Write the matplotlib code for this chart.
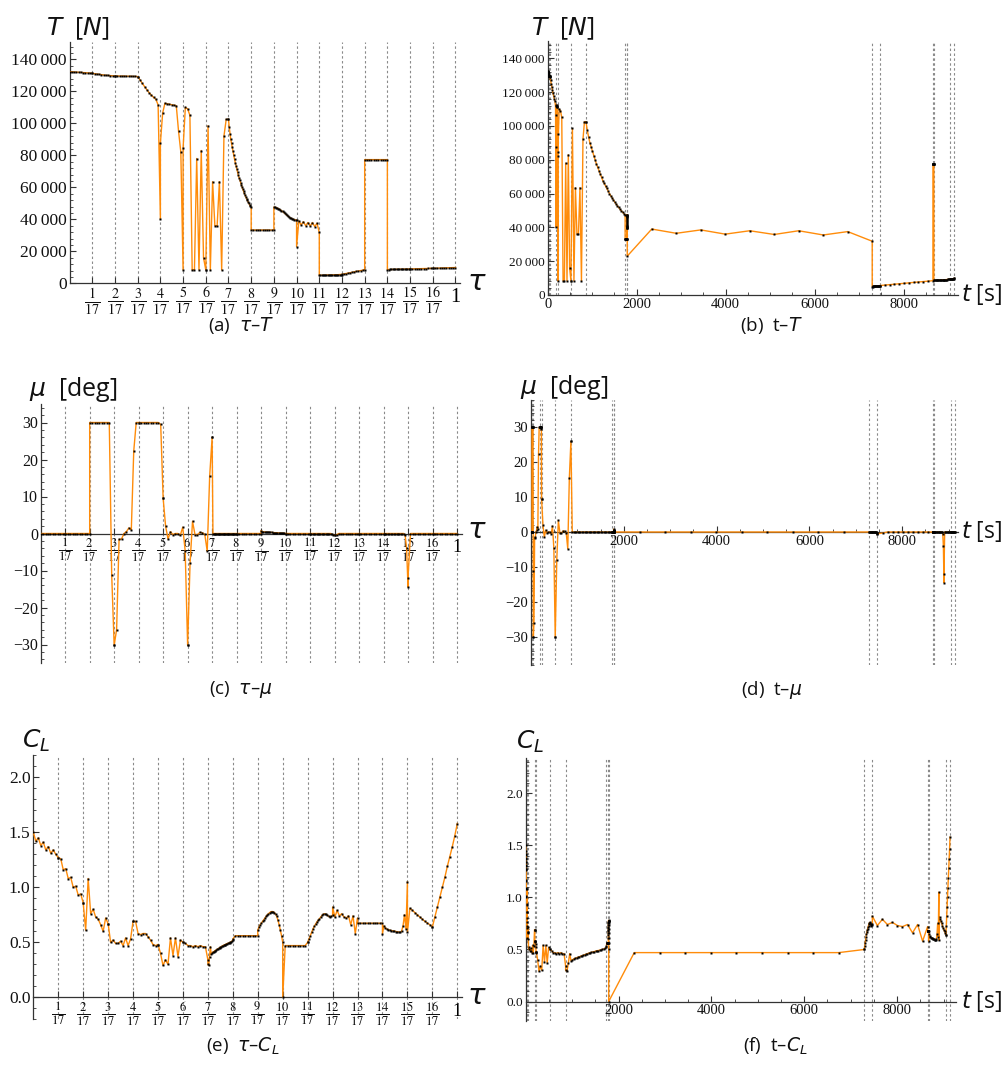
import numpy as np
import matplotlib
matplotlib.use("Agg")
import matplotlib.pyplot as plt
from matplotlib.ticker import MultipleLocator, FixedLocator, FuncFormatter

# ---------------- data ----------------
# time [s] at the phase boundaries tau = k/17, k = 0..17
PHASE_T = [0, 8, 20, 50, 190, 228, 522, 860, 1740, 1780, 1788,
           7293, 7467, 8658, 8678, 8900, 9052, 9140]
# phase boundaries drawn as dotted lines in the time panels (15/17 is not drawn there)
T_PANEL_LINES = [8, 20, 50, 190, 228, 522, 860, 1740, 1780, 1788,
                 7293, 7467, 8658, 8678, 9052, 9140]

# thrust T [kN] at the collocation nodes of each phase
T_PHASES = [
    [132.3, 132.2, 132.1, 132.0, 131.9, 131.8, 131.7, 131.6, 131.5, 131.4, 131.3],
    [131.2, 131.0, 130.8, 130.6, 130.4, 130.2, 130.0, 129.9, 129.8, 129.7, 129.6],
    [129.6, 129.6, 129.5, 129.5, 129.5, 129.4, 129.4, 129.4, 129.3, 129.3, 129.2],
    [129.2, 127.2, 125.0, 123.0, 121.0, 119.2, 117.6, 116.2, 115.0, 111.5, 40.0],
    [87.5, 106.5, 112.5, 112.2, 111.9, 111.6, 111.3, 111.0, 95.0, 82.0, 8.4],
    [84.5, 110.0, 109.0, 105.0, 8.4, 8.4, 78.0, 8.4, 83.0, 16.0, 8.4],
    [8.4, 98.5, 8.4, 63.5, 36.0, 36.0, 63.5, 8.4, 92.0, 102.5, 102.5],
    [102.5, 97.5, 93.5, 90.0, 87.5, 85.0, 82.5, 80.0, 77.5, 75.5, 73.5, 71.5, 69.5,
     67.5, 66.0, 64.5, 63.0, 61.5, 60.0, 58.7, 57.4, 56.2, 55.0, 53.9, 52.8, 51.8,
     50.8, 49.9, 49.0, 48.2, 47.5],
    [33.3, 33.3, 33.3, 33.3, 33.3, 33.3, 33.3, 33.3, 33.3, 33.3, 33.3],
    [47.6, 47.5, 47.3, 47.0, 46.7, 46.3, 45.9, 45.4, 44.9, 44.4, 43.8, 43.2, 42.6,
     42.0, 41.5, 41.0, 40.6, 40.3, 40.0, 39.8, 39.6, 39.5],
    [23.0, 39.0, 36.5, 38.5, 36.0, 38.0, 35.8, 38.0, 35.5, 37.5, 31.8],
    [5.0, 5.0, 5.05, 5.05, 5.1, 5.1, 5.15, 5.15, 5.2, 5.2, 5.25, 5.25, 5.3, 5.3,
     5.35, 5.35, 5.4, 5.4, 5.45, 5.5],
    [5.6, 5.85, 6.1, 6.4, 6.65, 6.9, 7.2, 7.45, 7.7, 7.95, 8.2, 8.45],
    [77.3, 77.3, 77.3, 77.3, 77.3, 77.3, 77.3, 77.3, 77.3, 77.3, 77.3],
    [8.6, 8.62, 8.64, 8.66, 8.68, 8.7, 8.72, 8.74, 8.76, 8.78, 8.8, 8.82, 8.84, 8.86,
     8.88, 8.9, 8.92, 8.94],
    [8.96, 9.0, 9.04, 9.08, 9.12, 9.16, 9.2, 9.24, 9.28, 9.32, 9.36],
    [9.36, 9.4, 9.45, 9.5, 9.55, 9.6, 9.65, 9.7, 9.75, 9.8, 9.85],
]

# bank angle mu [deg]
MU_PHASES = [
    [0.0, 0.0, 0.0, 0.0, 0.0, 0.0, 0.0, 0.0, 0.0, 0.0, 0.0],
    [0.0, 0.0, 0.0, 0.0, 0.0, 0.0, 0.0, 0.0, 0.0, 0.0, 0.0],
    [30.0, 30.0, 30.0, 30.0, 30.0, 30.0, 30.0, 30.0, 30.0, -11.3, -30.2],
    [-30.2, -26.0, -1.6, -1.5, 0.0, 0.5, 1.5, 1.0, 22.3, 30.0, 30.0],
    [30.0, 30.0, 30.0, 30.0, 30.0, 30.0, 30.0, 30.0, 30.0, 29.5, 9.5],
    [9.5, 2.0, -1.5, 0.5, -0.3, 0.0, 0.0, -0.5, 1.7, -4.7, -30.2],
    [-30.2, -7.9, 3.3, -0.3, -0.3, 0.3, 0.2, -0.2, -4.8, 15.5, 26.0],
    [26.0, 0.0, 0.0, 0.0, 0.0, 0.0, 0.0, 0.0, 0.0, 0.0, 0.0, 0.0, 0.0, 0.0, 0.0, 0.0,
     0.0, 0.0, 0.0, 0.0, 0.0, 0.0, 0.0, 0.0, 0.0, 0.0, 0.0, 0.0, 0.0, 0.0, 0.0],
    [0.0, 0.0, 0.0, 0.0, 0.0, 0.0, 0.0, 0.0, 0.0, 0.0, 0.0],
    [0.8, 0.5, 0.45, 0.4, 0.4, 0.35, 0.35, 0.3, 0.3, 0.3, 0.25, 0.25, 0.2, 0.2, 0.2,
     0.15, 0.15, 0.1, 0.1, 0.1, 0.05, 0.0],
    [0.0, 0.0, 0.0, 0.0, 0.0, 0.0, 0.0, 0.0, 0.0, 0.0, 0.0],
    [0.0, 0.0, 0.0, 0.0, 0.0, 0.0, 0.0, 0.0, 0.0, 0.0, 0.0, 0.0, 0.0, 0.0, 0.0, 0.0,
     0.0, -0.2, -0.4, -0.5],
    [-0.5, -0.3, 0.0, 0.0, 0.0, 0.0, 0.0, 0.0, 0.0, 0.0, 0.0, 0.0],
    [0.0, 0.0, 0.0, 0.0, 0.0, 0.0, 0.0, 0.0, 0.0, 0.0, 0.0],
    [0.0, 0.0, 0.0, 0.0, 0.0, 0.0, 0.0, 0.0, 0.0, 0.0, 0.0, 0.0, 0.0, 0.0, 0.0,
     -0.5, -4.0, -14.5],
    [-12.0, 0.0, 0.0, 0.0, 0.0, 0.0, 0.0, 0.0, 0.0, 0.0, 0.0],
    [0.0, 0.0, 0.0, 0.0, 0.0, 0.0, 0.0, 0.0, 0.0, 0.0, 0.0],
]

# lift coefficient C_L
CL_PHASES = [
    [1.50, 1.42, 1.45, 1.38, 1.41, 1.34, 1.37, 1.31, 1.34, 1.30, 1.27],
    [1.27, 1.26, 1.16, 1.17, 1.08, 1.09, 1.00, 1.01, 0.93, 0.94, 0.86],
    [0.86, 0.61, 1.08, 0.76, 0.80, 0.73, 0.71, 0.66, 0.60, 0.72, 0.67],
    [0.67, 0.50, 0.52, 0.49, 0.49, 0.51, 0.47, 0.54, 0.47, 0.53, 0.69],
    [0.69, 0.69, 0.58, 0.57, 0.58, 0.58, 0.55, 0.52, 0.48, 0.47, 0.48],
    [0.48, 0.40, 0.29, 0.34, 0.30, 0.54, 0.38, 0.54, 0.37, 0.52, 0.50],
    [0.50, 0.49, 0.47, 0.47, 0.46, 0.47, 0.46, 0.47, 0.46, 0.46, 0.34],
    [0.30, 0.29, 0.37, 0.46, 0.39, 0.40, 0.41, 0.415, 0.42, 0.425, 0.43, 0.435, 0.44,
     0.445, 0.45, 0.455, 0.46, 0.465, 0.47, 0.473, 0.477, 0.48, 0.484, 0.488, 0.49,
     0.493, 0.497, 0.50, 0.505, 0.51, 0.52],
    [0.53, 0.56, 0.56, 0.56, 0.56, 0.56, 0.56, 0.56, 0.56, 0.56, 0.56],
    [0.61, 0.64, 0.66, 0.675, 0.69, 0.705, 0.72, 0.735, 0.75, 0.76, 0.77, 0.778, 0.78,
     0.778, 0.77, 0.755, 0.735, 0.70, 0.66, 0.61, 0.56, 0.50],
    [0.0, 0.47, 0.47, 0.47, 0.47, 0.47, 0.47, 0.47, 0.47, 0.47, 0.50],
    [0.50, 0.53, 0.56, 0.59, 0.62, 0.645, 0.665, 0.685, 0.70, 0.715, 0.73, 0.745,
     0.755, 0.76, 0.755, 0.745, 0.735, 0.73, 0.735, 0.745],
    [0.82, 0.73, 0.79, 0.74, 0.76, 0.73, 0.72, 0.74, 0.66, 0.74, 0.58, 0.72],
    [0.673, 0.673, 0.673, 0.673, 0.673, 0.673, 0.673, 0.673, 0.673, 0.673, 0.673],
    [0.58, 0.65, 0.63, 0.62, 0.615, 0.61, 0.607, 0.604, 0.60, 0.598, 0.596, 0.594,
     0.59, 0.60, 0.65, 0.75, 0.62, 1.05],
    [0.59, 0.81, 0.79, 0.77, 0.75, 0.73, 0.71, 0.69, 0.675, 0.66, 0.64],
    [0.64, 0.73, 0.82, 0.91, 1.00, 1.09, 1.19, 1.28, 1.37, 1.47, 1.58],
]

TAU_TICK_NUM = list(range(1, 17))
N_PH = 17

# ---------------- node positions ----------------
tau_list, t_list = [], []
for k, vals in enumerate(T_PHASES):
    f = np.linspace(0.0, 1.0, len(vals))
    tau_list.append((k + f) / N_PH)
    t_list.append(PHASE_T[k] + f * (PHASE_T[k + 1] - PHASE_T[k]))
TAU = np.concatenate(tau_list)
TT = np.concatenate(t_list)
T_N = np.concatenate(T_PHASES) * 1000.0
MU = np.concatenate(MU_PHASES)
CL = np.concatenate(CL_PHASES)

# ---------------- style ----------------
plt.rcParams['mathtext.fontset'] = 'stix'
SERIF = ['Liberation Serif', 'DejaVu Serif']
SANS = ['Open Sans', 'DejaVu Sans']
ORANGE = '#FF8C0A'
GRID = '#8a8a8a'
AXC = '#333333'
W, H = 1004, 1066

fig = plt.figure(figsize=(W / 100, H / 100), dpi=100)


def make_ax(x0, x1, ytop, ybot):
    ax = fig.add_axes([x0 / W, 1 - ybot / H, (x1 - x0) / W, (ybot - ytop) / H])
    ax.patch.set_alpha(0)
    for s in ('top', 'right'):
        ax.spines[s].set_visible(False)
    for s in ('left', 'bottom'):
        ax.spines[s].set_color(AXC)
        ax.spines[s].set_linewidth(0.9)
    ax.tick_params(which='both', direction='in', colors=AXC, labelcolor='#111111', pad=2)
    ax.tick_params(which='major', length=4, width=0.8)
    ax.tick_params(which='minor', length=2, width=0.6)
    return ax


def draw_series(ax, x, y):
    ax.plot(x, y, color=ORANGE, lw=1.0, zorder=3, solid_joinstyle='round')
    ax.plot(x, y, ls='none', marker='s', ms=1.9, mfc='black', mec='none', zorder=4)


def vlines(ax, xs):
    for xv in xs:
        ax.axvline(xv, color=GRID, lw=0.8, ls=(0, (2.2, 2.2)), zorder=1)


def tau_axis(ax, fs, off):
    ax.set_xlim(0, 1.012)
    ax.xaxis.set_major_locator(FixedLocator([k / N_PH for k in range(1, N_PH + 1)]))
    labels = [r'$\frac{%d}{17}$' % k for k in TAU_TICK_NUM] + ['']
    ax.set_xticklabels(labels, fontsize=fs)
    ax.annotate('1', xy=(1.0, 0.0), xycoords='data', xytext=(0, off),
                textcoords='offset points', ha='center', va='center',
                fontsize=fs, family=SERIF, annotation_clip=False)
    vlines(ax, [k / N_PH for k in range(1, N_PH + 1)])


def t_axis(ax, xmax, fs, show0=False):
    ax.set_xlim(0, xmax)
    ticks = [0, 2000, 4000, 6000, 8000] if show0 else [2000, 4000, 6000, 8000]
    ax.xaxis.set_major_locator(FixedLocator(ticks))
    ax.xaxis.set_minor_locator(MultipleLocator(500))
    ax.xaxis.set_major_formatter(FuncFormatter(lambda v, p: '%d' % v))
    ax.tick_params(axis='x', labelsize=fs)
    vlines(ax, T_PANEL_LINES)


def set_tick_font(ax):
    for lab in ax.get_xticklabels() + ax.get_yticklabels():
        lab.set_family(SERIF)


thou = FuncFormatter(lambda v, p: ('{:,}'.format(int(round(v)))).replace(',', '\u2009'))

LBL = dict(math_fontfamily='dejavusans', family=SANS, color='#111111')

# ---------- (a) tau - T ----------
ax = make_ax(69.6, 460.1, 41.7, 283.3)
draw_series(ax, TAU, T_N)
ax.set_ylim(0, 151000)
ax.yaxis.set_major_locator(MultipleLocator(20000))
ax.yaxis.set_minor_locator(MultipleLocator(4000))
ax.yaxis.set_major_formatter(thou)
ax.tick_params(axis='y', labelsize=12.5)
tau_axis(ax, 14.5, -10.5)
set_tick_font(ax)
fig.text(46 / W, 1 - 29 / H, r'$T$  [$N$]', fontsize=18, va='center', ha='left', **LBL)
fig.text(467 / W, 1 - 282 / H, r'$\tau$', fontsize=21, va='center', ha='left', **LBL)

# ---------- (b) t - T ----------
ax = make_ax(547.7, 958.4, 41.4, 295.0)
draw_series(ax, TT, T_N)
ax.set_ylim(0, 150000)
ax.yaxis.set_major_locator(MultipleLocator(20000))
ax.yaxis.set_minor_locator(MultipleLocator(4000))
ax.yaxis.set_major_formatter(thou)
ax.tick_params(axis='y', labelsize=9.5)
t_axis(ax, 9230, 10.5, show0=True)
set_tick_font(ax)
fig.text(531 / W, 1 - 29 / H, r'$T$  [$N$]', fontsize=18, va='center', ha='left', **LBL)
fig.text(961 / W, 1 - 295 / H, r'$t$ [s]', fontsize=16.5, va='center', ha='left', **LBL)

# ---------- (c) tau - mu ----------
ax = make_ax(40.7, 462.0, 404.0, 663.0)
ax.spines['bottom'].set_position(('data', 0))
draw_series(ax, TAU, MU)
ax.set_ylim(-35, 35)
ax.yaxis.set_major_locator(MultipleLocator(10))
ax.yaxis.set_minor_locator(MultipleLocator(2))
ax.tick_params(axis='y', labelsize=11.5)
tau_axis(ax, 13, -10)
set_tick_font(ax)
fig.text(29 / W, 1 - 390 / H, r'$\mu$  [deg]', fontsize=18, va='center', ha='left', **LBL)
fig.text(467 / W, 1 - 531 / H, r'$\tau$', fontsize=21, va='center', ha='left', **LBL)

# ---------- (d) t - mu ----------
ax = make_ax(531.0, 957.9, 399.5, 664.5)
ax.spines['bottom'].set_position(('data', 0))
draw_series(ax, TT, MU)
ax.set_ylim(-38, 38)
ax.yaxis.set_major_locator(MultipleLocator(10))
ax.yaxis.set_minor_locator(MultipleLocator(2))
ax.tick_params(axis='y', labelsize=10.5)
t_axis(ax, 9200, 10.5)
set_tick_font(ax)
fig.text(520 / W, 1 - 387 / H, r'$\mu$  [deg]', fontsize=18, va='center', ha='left', **LBL)
fig.text(961 / W, 1 - 531 / H, r'$t$ [s]', fontsize=16.5, va='center', ha='left', **LBL)

# ---------- (e) tau - CL ----------
ax = make_ax(33.3, 462.4, 755.3, 1019.3)
ax.spines['bottom'].set_position(('data', 0))
draw_series(ax, TAU, CL)
ax.set_ylim(-0.2, 2.2)
ax.yaxis.set_major_locator(FixedLocator([0.0, 0.5, 1.0, 1.5, 2.0]))
ax.yaxis.set_minor_locator(MultipleLocator(0.1))
ax.yaxis.set_major_formatter(FuncFormatter(lambda v, p: '%.1f' % v))
ax.tick_params(axis='y', labelsize=12.5)
tau_axis(ax, 13, -10)
set_tick_font(ax)
fig.text(22 / W, 1 - 741 / H, r'$C_L$', fontsize=18, va='center', ha='left', **LBL)
fig.text(467 / W, 1 - 996 / H, r'$\tau$', fontsize=21, va='center', ha='left', **LBL)

# ---------- (f) t - CL ----------
ax = make_ax(525.7, 956.5, 758.0, 1021.3)
ax.spines['bottom'].set_position(('data', 0))
draw_series(ax, TT, CL)
ax.set_ylim(-0.19, 2.34)
ax.yaxis.set_major_locator(FixedLocator([0.0, 0.5, 1.0, 1.5, 2.0]))
ax.yaxis.set_minor_locator(MultipleLocator(0.1))
ax.yaxis.set_major_formatter(FuncFormatter(lambda v, p: '%.1f' % v))
ax.tick_params(axis='y', labelsize=9.5)
t_axis(ax, 9280, 10.5)
set_tick_font(ax)
fig.text(516 / W, 1 - 742 / H, r'$C_L$', fontsize=18, va='center', ha='left', **LBL)
fig.text(961 / W, 1 - 1001 / H, r'$t$ [s]', fontsize=16.5, va='center', ha='left', **LBL)

# ---------- captions ----------
CAP = dict(fontsize=13.5, ha='center', va='center', **LBL)
fig.text(241 / W, 1 - 326 / H, r'(a)  $\tau$–$T$', **CAP)
fig.text(772 / W, 1 - 326 / H, r'(b)  t–$T$', **CAP)
fig.text(241 / W, 1 - 690 / H, r'(c)  $\tau$–$\mu$', **CAP)
fig.text(772 / W, 1 - 690 / H, r'(d)  t–$\mu$', **CAP)
fig.text(243 / W, 1 - 1046 / H, r'(e)  $\tau$–$C_L$', **CAP)
fig.text(775 / W, 1 - 1046 / H, r'(f)  t–$C_L$', **CAP)

fig.savefig('out.png', dpi=100)
